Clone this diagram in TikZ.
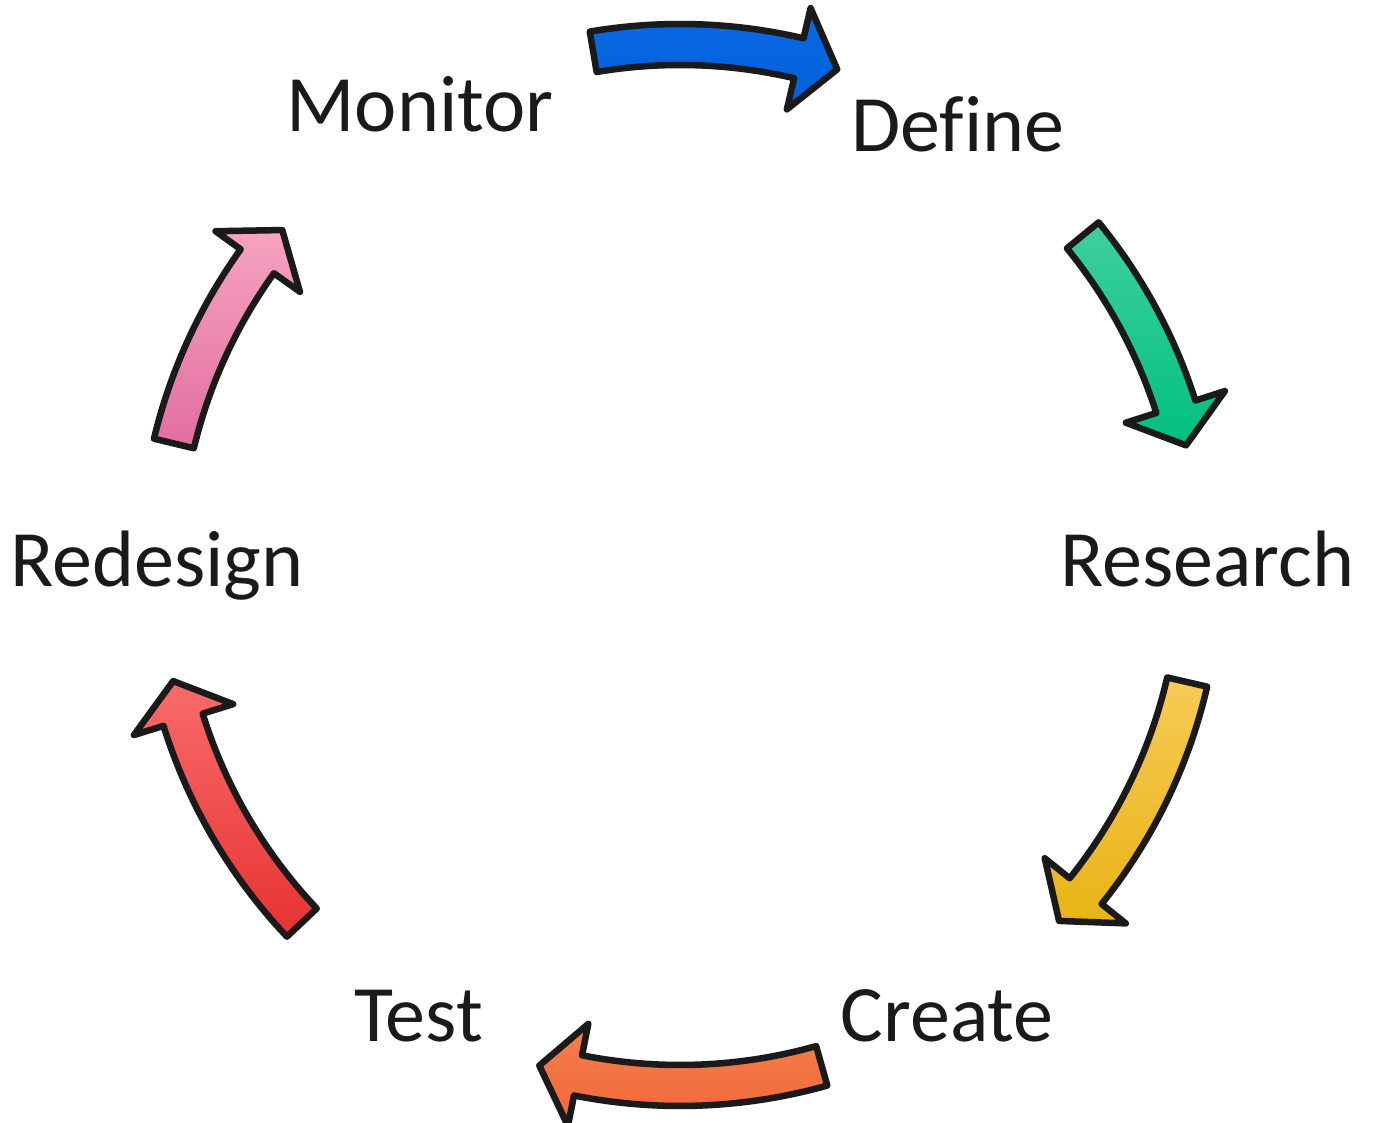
\documentclass[tikz,border=0pt]{standalone}
\usepackage{fontspec}
\setmainfont{Carlito}[Ligatures=NoCommon]
\usepackage{xcolor}
\usetikzlibrary{calc}

\definecolor{LineBlack}{HTML}{1A1A1A}
\definecolor{BlueTop}{HTML}{0A69E4}
\definecolor{BlueBot}{HTML}{0360DA}
\definecolor{GreenTop}{HTML}{40D0A0}
\definecolor{GreenBot}{HTML}{00BF80}
\definecolor{YellowTop}{HTML}{F7CA55}
\definecolor{YellowBot}{HTML}{E8B415}
\definecolor{OrangeTop}{HTML}{F6804F}
\definecolor{OrangeBot}{HTML}{F06636}
\definecolor{RedTop}{HTML}{F96B6B}
\definecolor{RedBot}{HTML}{E73232}
\definecolor{PinkTop}{HTML}{F7A3C1}
\definecolor{PinkBot}{HTML}{E06E9F}

% ring geometry (pt)
\def\arrOut{541pt}
\def\arrIn{500pt}
\def\arrMid{520pt}
\def\headOut{572pt}
\def\headIn{468pt}
\def\headLen{4.4}

% curved block arrow, clockwise: #1 tail angle, #2 tip angle, #3/#4 shading
\newcommand{\cyclearrow}[4]{%
  \pgfmathsetmacro{\headAng}{#2+\headLen}
  \draw[blockarrow, top color=#3, bottom color=#4]
    (#1:\arrOut) arc[start angle=#1, end angle=\headAng, radius=\arrOut]
    -- (\headAng:\headOut) -- (#2:\arrMid) -- (\headAng:\headIn)
    -- (\headAng:\arrIn) arc[start angle=\headAng, end angle=#1, radius=\arrIn]
    -- cycle;
}

\begin{document}
\begin{tikzpicture}[
  x=1pt, y=1pt,
  stagetext/.style={anchor=base, inner sep=0pt, text=LineBlack,
                    font=\fontsize{80}{96}\selectfont},
  blockarrow/.style={draw=LineBlack, line width=6.5pt, line join=round}
]
\useasboundingbox (0,0) rectangle (1373,1123);

\coordinate (hub) at (680,558);

% Stages round the ring
\node[stagetext] (monitor)  at (420,991)   {Monitor};
\node[stagetext] (define)   at (958,971)   {Define};
\node[stagetext] (research) at (1207,536)  {Research};
\node[stagetext] (create)   at (947,81)    {Create};
\node[stagetext] (test)     at (418.5,81)  {Test};
\node[stagetext] (redesign) at (157,536)   {Redesign};

% Arrows between stages
\begin{scope}[shift={(hub)}]
  \cyclearrow{99.6}{72.4}{BlueTop}{BlueBot}
  \cyclearrow{39.3}{13.3}{GreenTop}{GreenBot}
  \cyclearrow{-13.0}{-43.2}{YellowTop}{YellowBot}
  \cyclearrow{-74.2}{-105.7}{OrangeTop}{OrangeBot}
  \cyclearrow{-136.6}{-167.1}{RedTop}{RedBot}
  \cyclearrow{166.5}{139.9}{PinkTop}{PinkBot}
\end{scope}

\end{tikzpicture}
\end{document}
